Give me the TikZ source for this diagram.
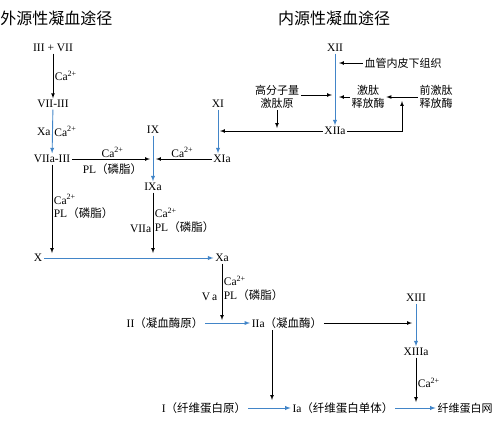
\documentclass[tikz,border=0pt]{standalone}
\usepackage{fontspec}
\setmainfont{Liberation Serif}
\newfontfamily\cjk{Noto Sans CJK SC}
\usetikzlibrary{calc}
\definecolor{pathblue}{RGB}{66,133,200}
\newcommand{\caion}{Ca\textsuperscript{2+}}
\newcommand{\plzh}{PL{\cjk（磷脂）}}

\begin{document}
\begin{tikzpicture}[x=1pt, y=-1pt, >=latex, line width=0.7pt,
  every node/.style={inner sep=1.5pt, font=\fontsize{11.5}{13.5}\selectfont},
  zh/.style={font=\cjk\fontsize{11}{13}\selectfont},
  title/.style={font=\cjk\fontsize{16}{18}\selectfont},
  bluearrow/.style={->, draw=pathblue, line width=0.9pt},
  blackarrow/.style={->, draw=black}]
  \useasboundingbox (0,0) rectangle (500,424);

  % Titles of the two pathways
  \node[title, anchor=west, inner sep=0pt] (extitle) at (0,18) {外源性凝血途径};
  \node[title] (intitle) at (334,18) {内源性凝血途径};

  % Extrinsic pathway factors
  \node (n37) at (53,48) {III + VII};
  \node (n73) at (53,104) {VII-III};
  \node (n7a) at (52,159) {VIIa-III};
  \node (n9) at (153,130) {IX};
  \node (n9a) at (153,187) {IXa};
  \node (n11) at (218,104) {XI};
  \node (n11a) at (222,159) {XIa};

  % Intrinsic pathway factors
  \node (n12) at (335,48) {XII};
  \node (n12a) at (335,131) {XIIa};
  \node[zh] (sub) at (403,63) {血管内皮下组织};
  \node[zh, align=center] (hmwk) at (277,97) {高分子量\\激肽原};
  \node[zh, align=center] (kal) at (368,97) {激肽\\释放酶};
  \node[zh, align=center] (pkal) at (436,97) {前激肽\\释放酶};

  % Common pathway
  \node (n10) at (38,258) {X};
  \node (n10a) at (222,258) {Xa};
  \node (n2) at (165,323) {II{\cjk（凝血酶原）}};
  \node (n2a) at (287,323) {IIa{\cjk（凝血酶）}};
  \node (n13) at (416,298) {XIII};
  \node (n13a) at (416,352) {XIIIa};
  \node (n1) at (204,408) {I{\cjk（纤维蛋白原）}};
  \node (n1a) at (343,408) {Ia{\cjk（纤维蛋白单体）}};
  \node[zh] (net) at (465,408) {纤维蛋白网};

  % Extrinsic arrows
  \draw[blackarrow] (n37) -- node[right] {\caion} (n73);
  \draw[bluearrow] (n73) -- node[left] {Xa} node[right] {\caion} (n7a);
  \draw[blackarrow, shorten >=3pt] (n7a) -- node[above] {\caion} node[below=3pt] {\plzh} (n7a -| n9);
  \draw[blackarrow, shorten >=3pt] (n11a) -- node[above] {\caion} (n7a -| n9);
  \draw[bluearrow] (n9) -- (n9a);
  \draw[bluearrow] (n11) -- (n11 |- n11a.north);

  % Intrinsic arrows
  \draw[bluearrow] (n12) -- (n12a);
  \draw[blackarrow, shorten >=2pt] (n12a) -- (n11 |- n12a);
  \draw[blackarrow, shorten >=4pt] (sub.west) -- (sub.west -| n12);
  \draw[blackarrow, shorten >=3pt] ([yshift=2pt]hmwk.east) -- ([yshift=2pt]hmwk.east -| n12);
  \draw[blackarrow, shorten >=3pt] (hmwk.south) -- (hmwk |- n12a);
  \draw[blackarrow, shorten >=4pt] (kal.west) -- (kal.west -| n12);
  \draw[blackarrow] (pkal.west) -- (kal.east);
  \coordinate (kmid) at ($(kal.east)!0.5!(pkal.west)$);
  \draw[blackarrow, shorten >=4pt] (n12a.east) -| (kmid);

  % Towards factor X
  \draw[blackarrow, shorten >=5pt] (n7a) -- node[right, align=left, pos=0.45] {\caion\\\plzh} (n7a |- n10);
  \draw[blackarrow, shorten >=5pt] (n9a) -- node[right, align=left, pos=0.42] {\caion\\\plzh} node[left, pos=0.56] {VIIa} (n9a |- n10);
  \draw[bluearrow] (n10) -- (n10a);

  % Thrombin and fibrin
  \draw[blackarrow, shorten >=3pt] (n10a) -- node[right, align=left, pos=0.41] {\caion\\\plzh} node[left=3pt, pos=0.56] {V\,a} (n10a |- n2);
  \draw[bluearrow] (n2) -- (n2a);
  \draw[blackarrow, shorten >=4pt] (n2a) -- (n2a -| n13);
  \draw[bluearrow] (n13) -- (n13a);
  \draw[blackarrow, shorten >=6pt] (n13a) -- node[right] {\caion} (n13a |- n1a);
  \draw[blackarrow, shorten >=8pt] ([xshift=-15pt]n2a.south) -- ([xshift=-15pt]n2a.south |- n1a);
  \draw[bluearrow] (n1) -- (n1a);
  \draw[bluearrow] (n1a) -- (net);
\end{tikzpicture}
\end{document}
